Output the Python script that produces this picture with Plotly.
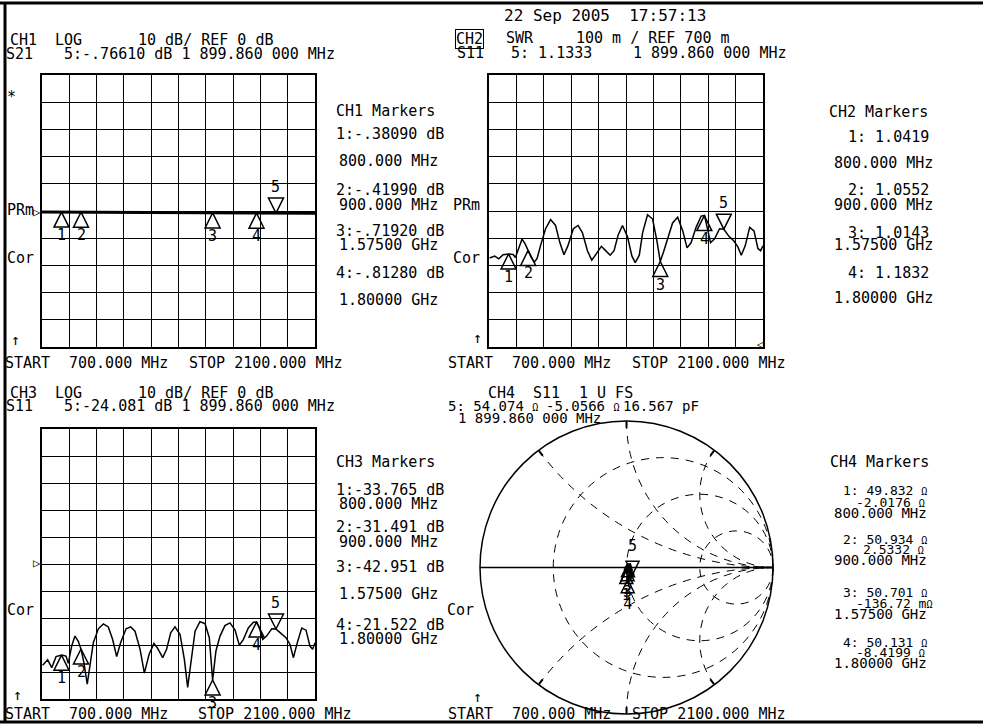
import plotly.graph_objects as go

W, H = 983, 725

# ---------------- data ----------------
marker_freq = [800, 900, 1575, 1800, 1899.86]
marker_ids = ["1", "2", "3", "4", "5"]

ch1_freq = [700, 800, 900, 1000, 1100, 1200, 1300, 1400, 1500, 1575, 1700, 1800, 1900, 2000, 2100]
ch1_db = [-0.36, -0.38, -0.42, -0.46, -0.50, -0.55, -0.59, -0.64, -0.69, -0.72, -0.77, -0.81, -0.77, -0.83, -0.86]
ch1_marker_db = [-0.3809, -0.4199, -0.7192, -0.8128, -0.7661]

s11_freq = [703, 729, 750, 772, 801, 823, 835, 852, 869, 886, 900, 915, 932, 946, 963, 989,
            1015, 1040, 1062, 1083, 1103, 1131, 1155, 1177, 1203, 1225, 1249, 1274, 1291, 1319,
            1339, 1360, 1382, 1408, 1430, 1447, 1468, 1485, 1510, 1536, 1558, 1575, 1592, 1613,
            1638, 1664, 1690, 1712, 1733, 1758, 1784, 1801, 1815, 1832, 1852, 1878, 1900, 1926,
            1951, 1972, 1989, 2009, 2032, 2054, 2074, 2088, 2100]
s11_db = [-37.5, -35.5, -38.4, -34.3, -33.7, -34.1, -36.8, -30.4, -26.7, -28.6, -31.5, -36.5,
          -44.5, -37.7, -29.2, -24.0, -22.2, -23.3, -27.9, -34.3, -29.2, -24.0, -23.3, -24.9,
          -31.6, -40.4, -33.5, -29.4, -31.0, -34.7, -31.6, -25.5, -23.3, -26.1, -35.3, -45.7,
          -34.7, -24.9, -21.4, -22.1, -27.3, -43.0, -32.2, -26.7, -22.8, -21.8, -24.5, -30.1,
          -27.9, -23.7, -21.6, -21.5, -23.7, -27.9, -26.7, -24.0, -24.1, -25.9, -27.3, -29.8,
          -34.7, -29.2, -23.7, -24.5, -30.4, -31.6, -29.2]
ch2_marker_swr = [1.0419, 1.0552, 1.0143, 1.1832, 1.1333]
ch3_marker_db = [-33.765, -31.491, -42.951, -21.522, -24.081]

ch4_real = [0.97, 0.99, 1.00, 0.98, 1.02, 1.05, 1.03, 1.00, 0.97, 1.01, 1.06, 1.04, 1.00,
            1.01, 1.05, 1.08, 1.03, 0.99, 1.00, 1.01, 1.06, 1.10, 1.04, 1.00, 1.08, 1.02]
ch4_imag = [-0.02, -0.05, -0.04, 0.00, 0.05, 0.02, -0.06, -0.09, -0.03, 0.03, -0.01, -0.10,
            -0.12, -0.003, 0.06, -0.04, -0.14, -0.17, -0.12, 0.04, -0.06, -0.10, -0.17, -0.15,
            -0.10, -0.05]
ch4_marker_r_ohm = [49.832, 50.934, 50.701, 50.131, 54.074]
ch4_marker_x_ohm = [-2.0176, 2.5332, -0.13672, -8.4199, -5.0566]
z0 = 50.0

smith_r_grid = [1 / 3, 1, 3]
smith_x_grid = [-2, -1, -0.5, 0.5, 1, 2]

# SWR derived from the same S11 log-magnitude trace
s11_swr = []
for d in s11_db:
    g = 10 ** (d / 20.0)
    s11_swr.append((1 + g) / (1 - g))

FONT = "DejaVu Sans Mono"
FS = 15

fig = go.Figure()

def px_x(v):
    return v / W

def px_y(v):
    return 1 - v / H

def axis_pair(n, x0, x1, y0, y1, yrange, ydtick):
    common = dict(showgrid=True, gridcolor="black", gridwidth=1.4, showline=True, mirror=True,
                  linecolor="black", linewidth=1.6, showticklabels=False, zeroline=False,
                  ticks="", fixedrange=True)
    xa = dict(domain=[px_x(x0), px_x(x1)], range=[700, 2100], dtick=140, tick0=700,
              anchor="y" + ("" if n == 1 else str(n)), **common)
    ya = dict(domain=[px_y(y1), px_y(y0)], range=yrange, dtick=ydtick, tick0=yrange[0],
              anchor="x" + ("" if n == 1 else str(n)), **common)
    return xa, ya

xa1, ya1 = axis_pair(1, 42, 315, 75, 347, [-50, 50], 10)
xa2, ya2 = axis_pair(2, 489, 763, 75, 347, [0.7, 1.7], 0.1)
xa3, ya3 = axis_pair(3, 42, 315, 429, 699, [-50, 50], 10)

annotations = []

def add_markers(xref, yref, vals, below_shift=-23, above_shift=26):
    fig.add_trace(go.Scatter(x=marker_freq[:4], y=vals[:4], xaxis=xref, yaxis=yref, mode="markers",
                             marker=dict(symbol="arrow-up-open", size=15, color="black",
                                         line=dict(width=1.5, color="black")),
                             hoverinfo="skip", showlegend=False, cliponaxis=False))
    fig.add_trace(go.Scatter(x=marker_freq[4:], y=vals[4:], xaxis=xref, yaxis=yref, mode="markers",
                             marker=dict(symbol="arrow-down-open", size=15, color="black",
                                         line=dict(width=1.5, color="black")),
                             hoverinfo="skip", showlegend=False, cliponaxis=False))
    for i, (f, v) in enumerate(zip(marker_freq, vals)):
        annotations.append(dict(x=f, y=v, xref=xref, yref=yref, text=marker_ids[i],
                                showarrow=False, yshift=(above_shift if i == 4 else below_shift),
                                font=dict(family=FONT, size=FS, color="black")))

# CH1
fig.add_trace(go.Scatter(x=ch1_freq, y=ch1_db, xaxis="x", yaxis="y", mode="lines",
                         line=dict(color="black", width=3), hoverinfo="skip", showlegend=False))
add_markers("x", "y", ch1_marker_db)

# CH2
fig.add_trace(go.Scatter(x=s11_freq, y=s11_swr, xaxis="x2", yaxis="y2", mode="lines",
                         line=dict(color="black", width=1.5), hoverinfo="skip", showlegend=False))
add_markers("x2", "y2", ch2_marker_swr)

# CH3
fig.add_trace(go.Scatter(x=s11_freq, y=s11_db, xaxis="x3", yaxis="y3", mode="lines",
                         line=dict(color="black", width=1.5), hoverinfo="skip", showlegend=False))
add_markers("x3", "y3", ch3_marker_db)

# CH4 Smith chart
fig.add_trace(go.Scattersmith(real=ch4_real, imag=ch4_imag, subplot="smith", mode="lines",
                              line=dict(color="black", width=1.5), hoverinfo="skip",
                              showlegend=False))
mr = [r / z0 for r in ch4_marker_r_ohm]
mx = [x / z0 for x in ch4_marker_x_ohm]
fig.add_trace(go.Scattersmith(real=mr[:4], imag=mx[:4], subplot="smith", mode="markers",
                              marker=dict(symbol="arrow-up-open", size=13, color="black",
                                          line=dict(width=1.5, color="black")),
                              hoverinfo="skip", showlegend=False))
fig.add_trace(go.Scattersmith(real=mr[4:], imag=mx[4:], subplot="smith", mode="markers",
                              marker=dict(symbol="arrow-down-open", size=13, color="black",
                                          line=dict(width=1.5, color="black")),
                              hoverinfo="skip", showlegend=False))
fig.add_trace(go.Scattersmith(real=mr[:4], imag=mx[:4], subplot="smith", mode="markers+text",
                              text=marker_ids[:4], textposition="bottom center",
                              textfont=dict(family=FONT, size=FS, color="black"),
                              marker=dict(size=28, opacity=0), hoverinfo="skip", showlegend=False))
fig.add_trace(go.Scattersmith(real=mr[4:], imag=mx[4:], subplot="smith", mode="markers+text",
                              text=marker_ids[4:], textposition="top center",
                              textfont=dict(family=FONT, size=FS, color="black"),
                              marker=dict(size=30, opacity=0), hoverinfo="skip", showlegend=False))

# ---------------- text ----------------
def txt(s, x, y, size=FS, anchor="left", box=False):
    d = dict(text=s, x=px_x(x), y=px_y(y), xref="paper", yref="paper", xanchor=anchor,
             yanchor="middle", showarrow=False, font=dict(family=FONT, size=size, color="black"),
             borderpad=0)
    if box:
        d.update(bordercolor="black", borderwidth=1)
    annotations.append(d)

O = "<span style='font-size:10px'>Ω</span>"

txt("22 Sep 2005  17:57:13", 503, 15, 16)
# CH1 header
txt("CH1", 9, 40); txt("LOG", 54, 40); txt("10 dB/ REF 0 dB", 137, 40)
txt("S21", 5, 54); txt("5:-.76610 dB 1 899.860 000 MHz", 63, 54)
# CH2 header
txt("CH2", 455, 39, box=True); txt("SWR", 505, 38); txt("100 m / REF 700 m", 575, 38)
txt("S11", 456, 53); txt("5: 1.1333", 510, 53); txt("1 899.860 000 MHz", 632, 53)
# CH1 side labels
txt("*", 6, 97); txt("PRm", 6, 210); txt("Cor", 6, 258); txt("↑", 10, 340)
txt("▷", 32, 212, size=12)
# CH1 marker list
txt("CH1 Markers", 335, 111)
txt("1:-.38090 dB", 335, 134); txt("800.000 MHz", 338, 161)
txt("2:-.41990 dB", 335, 190); txt("900.000 MHz", 338, 205)
txt("3:-.71920 dB", 335, 231); txt("1.57500 GHz", 338, 245)
txt("4:-.81280 dB", 335, 273); txt("1.80000 GHz", 338, 300)
# CH2 side labels
txt("PRm", 452, 205); txt("Cor", 452, 258); txt("↑", 472, 338)
txt("◁", 756, 344, size=11)
# CH2 marker list
txt("CH2 Markers", 828, 112)
txt("1: 1.0419", 847, 137); txt("800.000 MHz", 833, 163)
txt("2: 1.0552", 847, 190); txt("900.000 MHz", 833, 205)
txt("3: 1.0143", 847, 233); txt("1.57500 GHz", 833, 245)
txt("4: 1.1832", 847, 273); txt("1.80000 GHz", 833, 298)
# bottom of upper channels
txt("START", 4, 363); txt("700.000 MHz", 68, 363); txt("STOP 2100.000 MHz", 188, 363)
txt("START", 447, 363); txt("700.000 MHz", 511, 363); txt("STOP 2100.000 MHz", 631, 363)
# CH3 header
txt("CH3", 9, 393); txt("LOG", 54, 393); txt("10 dB/ REF 0 dB", 137, 393)
txt("S11", 5, 406); txt("5:-24.081 dB 1 899.860 000 MHz", 63, 406)
txt("▷", 32, 563, size=12); txt("Cor", 6, 610); txt("↑", 12, 695)
# CH3 marker list
txt("CH3 Markers", 335, 462)
txt("1:-33.765 dB", 335, 490); txt("800.000 MHz", 338, 504)
txt("2:-31.491 dB", 335, 527); txt("900.000 MHz", 338, 542)
txt("3:-42.951 dB", 335, 567); txt("1.57500 GHz", 338, 594)
txt("4:-21.522 dB", 335, 625); txt("1.80000 GHz", 338, 639)
# CH4 header
txt("CH4", 487, 393); txt("S11", 532, 393); txt("1 U FS", 578, 393)
txt("5: 54.074 " + O, 447, 406, 14); txt("-5.0566 " + O, 545, 406, 14); txt("16.567 pF", 622, 406, 14)
txt("1 899.860 000 MHz", 457, 418, 14)
txt("Cor", 446, 610); txt("↑", 472, 697)
# CH4 marker list
FS4 = 14
FSO = 13
txt("CH4 Markers", 829, 462)
txt("1: 49.832 " + O, 842, 491, FSO); txt("-2.0176 " + O, 855, 502, FSO); txt("800.000 MHz", 833, 513, FS4)
txt("2: 50.934 " + O, 842, 539, FSO); txt("2.5332 " + O, 862, 549, FSO); txt("900.000 MHz", 833, 560, FS4)
txt("3: 50.701 " + O, 842, 592, FSO); txt("-136.72 m" + O, 855, 603, FSO); txt("1.57500 GHz", 833, 614, FS4)
txt("4: 50.131 " + O, 842, 642, FSO); txt("-8.4199 " + O, 855, 652, FSO); txt("1.80000 GHz", 833, 663, FS4)
# bottom of lower channels
txt("START", 4, 714); txt("700.000 MHz", 68, 714); txt("STOP 2100.000 MHz", 197, 714)
txt("START", 447, 714); txt("700.000 MHz", 511, 714); txt("STOP 2100.000 MHz", 631, 714)

# frame
shapes = [
    dict(type="line", xref="paper", yref="paper", x0=0, x1=1, y0=px_y(3), y1=px_y(3),
         line=dict(color="black", width=3)),
    dict(type="line", xref="paper", yref="paper", x0=px_x(5), x1=px_x(5), y0=px_y(3), y1=px_y(722),
         line=dict(color="black", width=3)),
    dict(type="line", xref="paper", yref="paper", x0=0, x1=1, y0=px_y(722), y1=px_y(722),
         line=dict(color="black", width=3)),
]

fig.update_layout(
    width=W, height=H, margin=dict(l=0, r=0, t=0, b=0),
    paper_bgcolor="white", plot_bgcolor="white", showlegend=False,
    xaxis=xa1, yaxis=ya1, xaxis2=xa2, yaxis2=ya2, xaxis3=xa3, yaxis3=ya3,
    smith=dict(
        domain=dict(x=[px_x(480), px_x(773)], y=[px_y(714), px_y(421)]),
        bgcolor="white",
        realaxis=dict(tickvals=smith_r_grid, showticklabels=False, showgrid=True,
                      gridcolor="black", griddash="8px,7px", gridwidth=1.2, linecolor="black",
                      linewidth=1.5, ticks=""),
        imaginaryaxis=dict(tickvals=smith_x_grid,
                           showticklabels=False, showgrid=True, gridcolor="black",
                           griddash="8px,7px", gridwidth=1.2, linecolor="black", linewidth=1.5,
                           ticks="inside", ticklen=6, tickcolor="black"),
    ),
    annotations=annotations, shapes=shapes,
    font=dict(family=FONT, size=FS, color="black"),
)

fig.write_html("out.html", config={"displayModeBar": False},
               post_script="document.body.style.margin='0';document.body.style.padding='0';"
                           "document.body.style.overflow='hidden';")
